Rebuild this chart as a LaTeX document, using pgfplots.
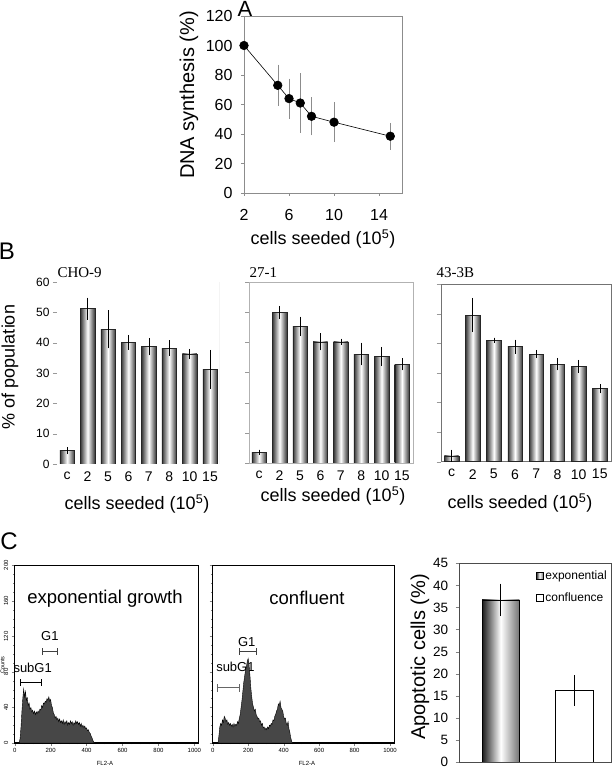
\documentclass[border=0pt]{standalone}
\usepackage{pgfplots}
\pgfplotsset{compat=1.18}
\usepackage{fontspec}
\setmainfont{Liberation Sans}
\newfontfamily\seriffont{Liberation Serif}
\newcommand\fs[1]{\fontsize{#1}{#1}\selectfont}
% one shaded bar: [options]{x}{y}{error}
\newcommand\sbar[4][]{\addplot[shadebar, bar shift=0pt, #1, eb] coordinates {(#2,#3)+-(0,#4)};}
\begin{document}
\begin{tikzpicture}
\useasboundingbox (0,0) rectangle (612pt,769pt);
\pgfplotsset{
  every axis/.append style={scale only axis, anchor=south west, /pgf/number format/assume math mode=true},
  shadebar/.style={ybar, bar width=0.71, draw=black!85, line width=0.4pt,
     left color=black!78, right color=black!78, middle color=white},
  eb/.style={error bars/.cd, y dir=both, y explicit,
     error bar style={black, line width=0.5pt},
     error mark options={black, mark size=2.6pt, line width=0.5pt}},
  bpanel/.style={height=181pt, ymin=0, ymax=60,
     xtick={0,...,7}, xticklabels={c,2,5,6,7,8,10,15},
     ytick={0,10,...,60}, tick align=outside, tick pos=left,
     xtick style={draw=none}, ytick style={black!40}, major tick length=4pt,
     xticklabel style={font=\fs{14}}, yticklabel style={font=\fs{12}}},
}
% ---------------- Panel A ----------------
\begin{axis}[at={(244pt,576pt)}, width=158pt, height=177pt,
  xmin=2, xmax=16.04, ymin=0, ymax=120,
  xtick={2,6,10,14}, ytick={0,20,...,120},
  axis line style={black!45}, tick style={black!45},
  tick align=outside, tick pos=left, major tick length=3pt,
  ticklabel style={font=\fs{16}},
  xticklabel style={yshift=-10pt}, yticklabel style={xshift=-5pt}]
\addplot[black, line width=0.6pt, mark=*, mark size=4.3pt,
  error bars/.cd, y dir=both, y explicit,
  error bar style={black!45, line width=0.5pt},
  error mark options={black!45, mark size=1.5pt}]
coordinates {(2,100)+-(0,0) (5,73)+-(0,13) (6,64)+-(0,12.5) (7,61)+-(0,19)
 (8,52)+-(0,12) (10,48)+-(0,12.5) (15,38.5)+-(0,8)};
\end{axis}
\node[font=\fs{22}] at (245pt,760pt) {A};
\node[font=\fs{20}, rotate=90] at (189pt,674pt) {DNA synthesis (\%)};
\node[font=\fs{18}] at (323pt,530pt) {cells seeded (10\textsuperscript{5})};
% ---------------- Panel B ----------------
\begin{axis}[bpanel, at={(57pt,305pt)}, width=162pt, height=182pt,
  xmin=-0.5, xmax=7.44, axis line style={draw=none}]
\draw[black!35] (rel axis cs:1,0) -- (rel axis cs:1,1);
\sbar{0}{4.4}{0.3} \sbar{1}{51.2}{2.8} \sbar{2}{44.4}{5.4} \sbar{3}{40.1}{1.6}
\sbar{4}{38.7}{2.0} \sbar{5}{38.2}{1.7} \sbar{6}{36.3}{0.8} \sbar{7}{31.2}{5.6}
\end{axis}
\begin{axis}[bpanel, at={(249pt,306pt)}, width=164pt,
  xmin=-0.5, xmax=7.54, yticklabels={}, axis line style={black!30}]
\sbar{0}{3.6}{0} \sbar{1}{49.9}{1.3} \sbar{2}{45.3}{2.4} \sbar{3}{40.2}{2.0}
\sbar{4}{40.2}{0.2} \sbar{5}{36.1}{2.9} \sbar{6}{35.3}{2.3} \sbar{7}{32.7}{1.1}
\end{axis}
\begin{axis}[bpanel, at={(440.7pt,307.3pt)}, width=170.3pt, height=177.4pt,
  xmin=-0.51, xmax=7.53, yticklabels={}, axis line style={black!55}]
\sbar[bar width=0.68]{0}{2.0}{1.2} \sbar[bar width=0.68]{1}{49.6}{4.9}
\sbar[bar width=0.68]{2}{41.1}{0} \sbar[bar width=0.68]{3}{38.9}{1.5}
\sbar[bar width=0.68]{4}{36.4}{0.5} \sbar[bar width=0.68]{5}{33.0}{1.2}
\sbar[bar width=0.68]{6}{32.3}{1.3} \sbar[bar width=0.68]{7}{24.7}{0.7}
\end{axis}
\node[font=\fs{24}] at (7pt,518pt) {B};
\node[font=\fs{18}, rotate=90] at (10pt,402pt) {\% of population};
\node[font=\seriffont\fs{15}, anchor=west] at (54pt,496pt) {CHO-9};
\node[font=\seriffont\fs{15}, anchor=west] at (246pt,496pt) {27-1};
\node[font=\seriffont\fs{15}, anchor=west] at (433pt,496pt) {43-3B};
\node[font=\fs{18}] at (137pt,265pt) {cells seeded (10\textsuperscript{5})};
\node[font=\fs{18}] at (333pt,273pt) {cells seeded (10\textsuperscript{5})};
\node[font=\fs{18}] at (520pt,266pt) {cells seeded (10\textsuperscript{5})};
% ---------------- Panel C histograms ----------------
\pgfplotsset{histo/.style={height=177.7pt, xmin=0, xmax=1024, ymin=0, ymax=200,
  xtick={0,200,...,1000}, ytick={0,40,...,200},
  minor x tick num=3, minor y tick num=3,
  tick align=outside, tick pos=left, axis line style={line width=1.1pt},
  major tick length=3pt, minor tick length=1.5pt,
  /pgf/number format/1000 sep={},
  ticklabel style={font=\fs{6}}, yticklabel style={rotate=90, anchor=south},
  xticklabel style={yshift=1pt}}}
\begin{axis}[histo, at={(14.7pt,26pt)}, width=184pt]
\node[font=\fs{13}] at (axis cs:196,120) {G1};
\node[font=\fs{13}] at (axis cs:100,85) {subG1};
\draw[|-|, line width=0.9pt, black!75] (axis cs:150,103) -- (axis cs:243,103);
\draw[|-|, line width=0.9pt, black] (axis cs:29,68) -- (axis cs:150,68);
\addplot[fill=black!72, draw=black, line width=0.4pt] coordinates {
(25,0)(30,5)(35,18)(40,35)(45,50)(50,61)(55,52)(60,58)(65,48)(70,51)(75,42)(80,45)(85,38)(90,40)
(95,35)(100,37)(105,33)(110,36)(115,32)(120,35)(125,33)(130,36)(135,34)(140,38)(145,37)(150,42)
(155,40)(160,45)(165,44)(170,47)(175,46)(180,50)(185,48)(190,52)(195,47)(200,49)(205,42)(210,40)
(215,34)(220,32)(225,28)(230,30)(235,26)(240,28)(245,24)(250,27)(255,23)(260,25)(265,22)(270,26)
(275,21)(280,24)(285,22)(290,25)(295,20)(300,23)(305,21)(310,25)(315,22)(320,24)(325,20)(330,23)
(335,21)(340,25)(345,22)(350,24)(355,21)(360,23)(365,19)(370,22)(375,18)(380,20)(385,17)(390,19)
(395,16)(400,17)(405,14)(410,15)(415,12)(420,11)(425,8)(430,6)(435,3)(440,1)(445,0)} \closedcycle;
\end{axis}
\begin{axis}[histo, at={(212.7pt,26pt)}, width=181.6pt, yticklabels={}]
\node[font=\fs{13}] at (axis cs:192,114) {G1};
\node[font=\fs{13}] at (axis cs:128,86) {subG1};
\draw[|-|, line width=0.9pt, black!75] (axis cs:147,103) -- (axis cs:249,103);
\draw[|-|, line width=0.9pt, black!60] (axis cs:26,62) -- (axis cs:151,62);
\addplot[fill=black!72, draw=black, line width=0.4pt] coordinates {
(30,0)(35,8)(40,18)(45,22)(50,20)(55,26)(60,23)(65,30)(70,28)(75,24)(80,26)(85,21)(90,23)(95,20)
(100,22)(105,19)(110,21)(115,18)(120,22)(125,19)(130,21)(135,20)(140,24)(145,22)(150,28)(155,32)
(160,40)(165,48)(170,58)(175,68)(180,75)(185,82)(190,86)(195,92)(200,95)(205,88)(210,76)(215,62)
(220,52)(225,44)(230,40)(235,36)(240,38)(245,32)(250,30)(255,27)(260,28)(265,24)(270,25)(275,20)
(280,22)(285,17)(290,18)(295,15)(300,17)(305,15)(310,18)(315,16)(320,20)(325,19)(330,22)(335,21)
(340,26)(345,25)(350,30)(355,32)(360,36)(365,38)(370,44)(375,42)(380,47)(385,40)(390,38)(395,36)
(400,30)(405,27)(410,28)(415,22)(420,20)(425,24)(430,16)(435,12)(440,6)(445,2)(450,0)} \closedcycle;
\end{axis}
\node[font=\fs{24}] at (9pt,228pt) {C};
\node[font=\fs{5.5}, rotate=90] at (2.5pt,104pt) {Counts};
\node[font=\fs{6}] at (105pt,6pt) {FL2-A};
\node[font=\fs{6}] at (307pt,6pt) {FL2-A};
\node[font=\fs{18.5}] at (105pt,170pt) {exponential growth};
\node[font=\fs{18.5}] at (307pt,171pt) {confluent};
% ---------------- Panel C bars ----------------
\begin{axis}[at={(458.7pt,7pt)}, width=152pt, height=198.7pt,
  xmin=-0.573, xmax=1.5, ymin=0, ymax=45, ytick={0,5,...,45}, xtick=\empty,
  axis line style={black!70}, tick align=outside, tick pos=left, major tick length=3pt,
  ticklabel style={font=\fs{13.5}}, yticklabel style={xshift=-4pt},
  legend image code/.code={\draw[#1, line width=0.4pt] (0pt,-3.5pt) rectangle (7pt,3.5pt);},
  legend style={at={(0.995,0.985)}, anchor=north east, draw=none, fill=none,
    font=\fs{12}, row sep=8pt, inner xsep=1pt}, legend cell align=left]
\addplot[ybar, bar width=0.51, draw=black, line width=0.4pt,
  left color=black!90, right color=black!55, middle color=white, eb]
  coordinates {(0,36.7)+-(0,3.1)};
\addlegendentry{exponential}
\addplot[ybar, bar width=0.51, draw=black, line width=0.4pt, fill=white, eb]
  coordinates {(1,16.2)+-(0,2.85)};
\addlegendentry{confluence}
\end{axis}
\node[font=\fs{20}, rotate=90] at (420pt,112pt) {Apoptotic cells (\%)};
\end{tikzpicture}
\end{document}
